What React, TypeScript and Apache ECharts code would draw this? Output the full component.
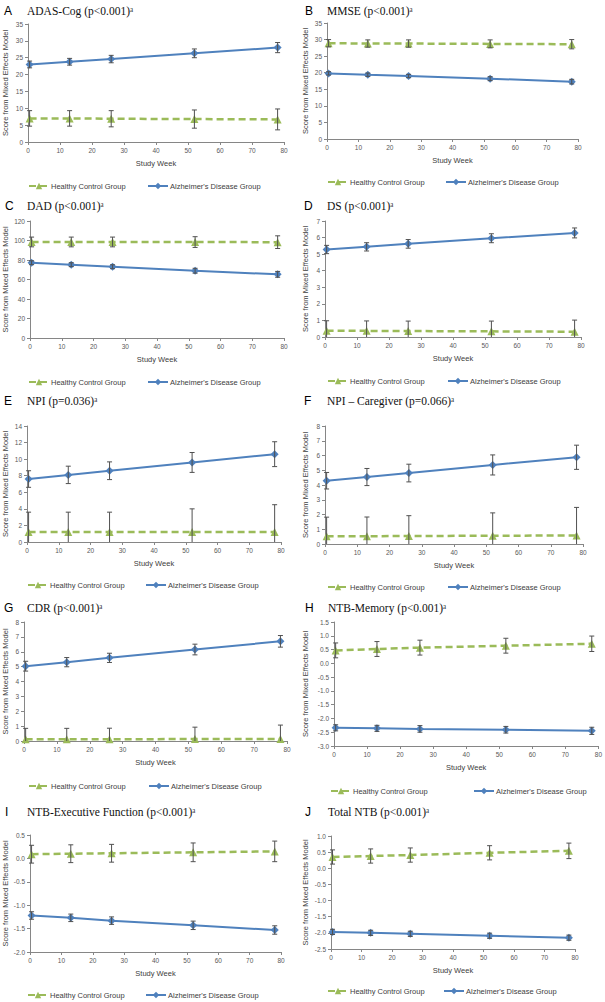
import React, { useEffect, useRef } from "react";
import * as echarts from "echarts";

const weeks = [0.5, 13, 26, 52, 78];

// A ADAS-Cog
const adasHC = [7.0, 7.0, 6.9, 6.8, 6.7];
const adasHCErr = [2.3, 2.3, 2.4, 2.7, 3.1];
const adasAD = [23.0, 23.8, 24.6, 26.3, 28.0];
const adasADErr = [1.0, 1.0, 1.1, 1.3, 1.5];
// B MMSE
const mmseHC = [28.9, 28.8, 28.8, 28.7, 28.6];
const mmseHCErr = [1.1, 1.1, 1.1, 1.2, 1.4];
const mmseAD = [19.8, 19.4, 19.0, 18.2, 17.3];
const mmseADErr = [0.5, 0.5, 0.5, 0.6, 0.7];
// C DAD
const dadHC = [98.5, 98.5, 98.5, 98.4, 98.3];
const dadHCErr = [5.0, 5.0, 5.0, 5.5, 6.5];
const dadAD = [77.2, 75.2, 73.1, 69.0, 65.3];
const dadADErr = [2.0, 2.0, 2.0, 2.5, 3.0];
// D DS
const dsHC = [0.38, 0.37, 0.36, 0.34, 0.32];
const dsHCErr = [0.6, 0.6, 0.6, 0.62, 0.7];
const dsAD = [5.28, 5.44, 5.62, 5.96, 6.28];
const dsADErr = [0.25, 0.25, 0.26, 0.27, 0.3];
// E NPI
const npiHC = [1.2, 1.2, 1.2, 1.2, 1.2];
const npiHCErr = [2.4, 2.4, 2.4, 2.8, 3.3];
const npiAD = [7.6, 8.1, 8.6, 9.6, 10.6];
const npiADErr = [1.0, 1.05, 1.07, 1.2, 1.5];
// F NPI - Caregiver
const npicHC = [0.52, 0.53, 0.54, 0.56, 0.58];
const npicHCErr = [1.3, 1.3, 1.38, 1.55, 1.9];
const npicAD = [4.29, 4.54, 4.81, 5.36, 5.88];
const npicADErr = [0.56, 0.58, 0.6, 0.68, 0.82];
// G CDR
const cdrHC = [0.12, 0.12, 0.12, 0.13, 0.14];
const cdrHCErr = [0.73, 0.73, 0.74, 0.8, 0.93];
const cdrAD = [5.03, 5.3, 5.59, 6.15, 6.7];
const cdrADErr = [0.33, 0.31, 0.31, 0.36, 0.39];
// H NTB-Memory
const memHC = [0.47, 0.52, 0.57, 0.64, 0.71];
const memHCErr = [0.27, 0.27, 0.27, 0.27, 0.28];
const memAD = [-2.34, -2.36, -2.38, -2.41, -2.45];
const memADErr = [0.11, 0.11, 0.12, 0.12, 0.13];
// I NTB-Executive Function
const execHC = [0.09, 0.1, 0.11, 0.13, 0.15];
const execHCErr = [0.19, 0.19, 0.19, 0.2, 0.22];
const execAD = [-1.22, -1.27, -1.33, -1.43, -1.53];
const execADErr = [0.08, 0.08, 0.08, 0.09, 0.09];
// J Total NTB
const totHC = [0.35, 0.38, 0.41, 0.48, 0.54];
const totHCErr = [0.22, 0.22, 0.22, 0.22, 0.24];
const totAD = [-1.97, -2.0, -2.03, -2.09, -2.15];
const totADErr = [0.08, 0.08, 0.08, 0.08, 0.08];

const letters = ["A", "B", "C", "D", "E", "F", "G", "H", "I", "J"];
const titles = [
  "ADAS-Cog (p<0.001)ᵃ",
  "MMSE (p<0.001)ᵃ",
  "DAD (p<0.001)ᵃ",
  "DS (p<0.001)ᵃ",
  "NPI (p=0.036)ᵃ",
  "NPI – Caregiver (p=0.066)ᵃ",
  "CDR (p<0.001)ᵃ",
  "NTB-Memory (p<0.001)ᵃ",
  "NTB-Executive Function (p<0.001)ᵃ",
  "Total NTB (p<0.001)ᵃ",
];
const yMins = [0, 0, 0, 0, 0, 0, 0, -3, -2, -2.5];
const yMaxs = [35, 35, 120, 7, 14, 8, 8, 1.5, 0.5, 1.0];
const yIntervals = [5, 5, 20, 1, 2, 1, 1, 0.5, 0.5, 0.5];
const yDecimals = [0, 0, 0, 0, 0, 0, 0, 1, 1, 1];

const hcSets = [adasHC, mmseHC, dadHC, dsHC, npiHC, npicHC, cdrHC, memHC, execHC, totHC];
const hcErrSets = [adasHCErr, mmseHCErr, dadHCErr, dsHCErr, npiHCErr, npicHCErr, cdrHCErr, memHCErr, execHCErr, totHCErr];
const adSets = [adasAD, mmseAD, dadAD, dsAD, npiAD, npicAD, cdrAD, memAD, execAD, totAD];
const adErrSets = [adasADErr, mmseADErr, dadADErr, dsADErr, npiADErr, npicADErr, cdrADErr, memADErr, execADErr, totADErr];

const HC_NAME = "Healthy Control Group";
const AD_NAME = "Alzheimer's Disease Group";

// layout (positions only)
const layout = [
  { l: 28, t: 24, w: 256, h: 118, lx: 4, tx: 27, ty: 11, legY: 186, hcX: 28, adX: 147, col: 0 },
  { l: 327, t: 23, w: 251, h: 116, lx: 305, tx: 327, ty: 11, legY: 182, hcX: 327, adX: 445, col: 1 },
  { l: 30, t: 221, w: 254, h: 117, lx: 5, tx: 27, ty: 206, legY: 382, hcX: 28, adX: 147, col: 0 },
  { l: 325, t: 221, w: 256, h: 116, lx: 304, tx: 327, ty: 206, legY: 381, hcX: 327, adX: 447, col: 1 },
  { l: 27, t: 426, w: 254, h: 116, lx: 4, tx: 27, ty: 401, legY: 585, hcX: 27, adX: 145, col: 0 },
  { l: 325, t: 426, w: 258, h: 118, lx: 304, tx: 327, ty: 401, legY: 587, hcX: 327, adX: 447, col: 1 },
  { l: 24, t: 622, w: 263, h: 119, lx: 4, tx: 27, ty: 608, legY: 786, hcX: 28, adX: 148, col: 0 },
  { l: 334, t: 622, w: 265, h: 124, lx: 305, tx: 328, ty: 608, legY: 791, hcX: 330, adX: 473, col: 1 },
  { l: 30, t: 835, w: 251, h: 117, lx: 5, tx: 27, ty: 812, legY: 995, hcX: 27, adX: 145, col: 0 },
  { l: 331, t: 836, w: 244, h: 113, lx: 305, tx: 328, ty: 812, legY: 991, hcX: 327, adX: 443, col: 1 },
];

const GREEN = "#9BBB59";
const BLUE = "#4F81BD";
const ERR = "#505050";
const AXIS = "#868686";
const SANS = "Liberation Sans, Arial, sans-serif";
const SERIF = "Liberation Serif, Times New Roman, serif";

function makeErrorRender(yMin: number, yMax: number) {
  return function (params: any, api: any) {
    const x = api.value(0);
    const y = api.value(1);
    const e = api.value(2);
    const hi = y + e;
    const lo = y - e;
    const p = api.coord([x, Math.min(hi, yMax)]);
    const q = api.coord([x, Math.max(lo, yMin)]);
    const w = 2.5;
    const style = { stroke: ERR, lineWidth: 1 };
    const children: any[] = [
      { type: "line", shape: { x1: p[0], y1: p[1], x2: q[0], y2: q[1] }, style },
    ];
    if (hi <= yMax) children.push({ type: "line", shape: { x1: p[0] - w, y1: p[1], x2: p[0] + w, y2: p[1] }, style });
    if (lo >= yMin) children.push({ type: "line", shape: { x1: q[0] - w, y1: q[1], x2: q[0] + w, y2: q[1] }, style });
    return { type: "group", children };
  };
}

export default function App() {
  const ref = useRef<HTMLDivElement>(null);
  useEffect(() => {
    if (!ref.current) return;
    const chart = echarts.init(ref.current, null, { renderer: "svg" });

    const grid = layout.map((g) => ({ left: g.l, top: g.t, width: g.w, height: g.h }));
    const xAxis = layout.map((g, i) => ({
      gridIndex: i,
      type: "value",
      min: 0,
      max: 80,
      interval: 10,
      name: "Study Week",
      nameLocation: "middle",
      nameGap: 17,
      nameTextStyle: { fontSize: 7.5, color: "#404040", fontFamily: SANS, fontWeight: "normal" },
      axisLine: { onZero: false, lineStyle: { color: AXIS, width: 1 } },
      axisTick: { show: true, length: 3, lineStyle: { color: AXIS } },
      axisLabel: { fontSize: 6.5, color: "#595959", margin: 5, fontFamily: SANS },
      splitLine: { show: false },
    }));
    const yAxis = layout.map((g, i) => ({
      gridIndex: i,
      type: "value",
      min: yMins[i],
      max: yMaxs[i],
      interval: yIntervals[i],
      name: "Score from Mixed Effects Model",
      nameLocation: "middle",
      nameGap: g.l - (g.col ? 306 : 6) - 3.5,
      nameTextStyle: { fontSize: 7.5, color: "#404040", fontFamily: SANS, fontWeight: "normal" },
      axisLine: { show: true, onZero: false, lineStyle: { color: AXIS, width: 1 } },
      axisTick: { show: true, length: 3, lineStyle: { color: AXIS } },
      axisLabel: {
        fontSize: 6.5,
        color: "#595959",
        margin: 5,
        fontFamily: SANS,
        formatter: (v: number) => v.toFixed(yDecimals[i]),
      },
      splitLine: { show: false },
    }));

    const series: any[] = [];
    layout.forEach((g, i) => {
      const render = makeErrorRender(yMins[i], yMaxs[i]);
      series.push({
        name: HC_NAME,
        type: "line",
        xAxisIndex: i,
        yAxisIndex: i,
        data: weeks.map((w, j) => [w, hcSets[i][j]]),
        symbol: "triangle",
        symbolSize: 8,
        lineStyle: { color: GREEN, width: 2.5, type: [7, 4] },
        itemStyle: { color: GREEN },
        z: 2,
      });
      series.push({
        name: AD_NAME,
        type: "line",
        xAxisIndex: i,
        yAxisIndex: i,
        data: weeks.map((w, j) => [w, adSets[i][j]]),
        symbol: "diamond",
        symbolSize: 8,
        lineStyle: { color: BLUE, width: 2 },
        itemStyle: { color: BLUE },
        z: 2,
      });
      series.push({
        type: "custom",
        xAxisIndex: i,
        yAxisIndex: i,
        clip: false,
        renderItem: render,
        data: weeks.map((w, j) => [w, hcSets[i][j], hcErrSets[i][j]]),
        encode: { x: 0, y: 1 },
        z: 3,
      });
      series.push({
        type: "custom",
        xAxisIndex: i,
        yAxisIndex: i,
        clip: false,
        renderItem: render,
        data: weeks.map((w, j) => [w, adSets[i][j], adErrSets[i][j]]),
        encode: { x: 0, y: 1 },
        z: 3,
      });
    });

    const legend: any[] = [];
    layout.forEach((g) => {
      const common = {
        top: g.legY - 4,
        padding: 0,
        itemWidth: 20,
        itemHeight: 8,
        selectedMode: false,
        textStyle: { fontSize: 7.5, color: "#404040", fontFamily: SANS, padding: [0, 0, 0, -3] },
      };
      legend.push({ ...common, left: g.hcX, data: [HC_NAME] });
      legend.push({ ...common, left: g.adX, data: [AD_NAME] });
    });

    const graphic: any[] = [];
    layout.forEach((g, i) => {
      graphic.push({
        type: "text",
        x: g.lx,
        y: g.ty,
        style: {
          text: letters[i],
          fontSize: 12,
          fontWeight: "normal",
          fontFamily: SANS,
          fill: "#000",
          verticalAlign: "middle",
        },
      });
      graphic.push({
        type: "text",
        x: g.tx,
        y: g.ty,
        style: {
          text: titles[i],
          fontSize: 11.5,
          fontWeight: "normal",
          fontFamily: SERIF,
          fill: "#111",
          verticalAlign: "middle",
        },
      });
    });

    chart.setOption({
      animation: false,
      backgroundColor: "#ffffff",
      grid,
      xAxis,
      yAxis,
      series,
      legend,
      graphic,
    });
    return () => chart.dispose();
  }, []);
  return (
    <div
      ref={ref}
      style={{ position: "absolute", left: 0, top: 0, width: 605, height: 1002 }}
    />
  );
}
